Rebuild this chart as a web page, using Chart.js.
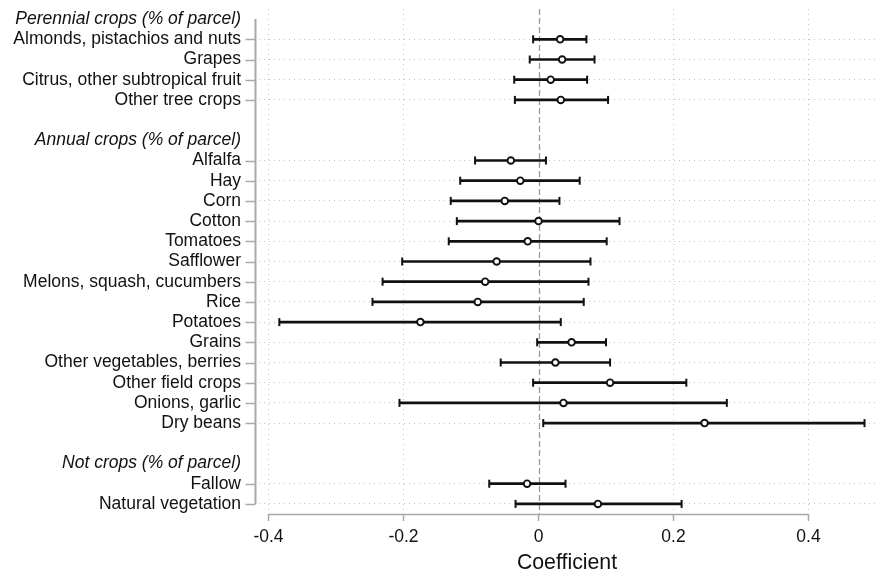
<!DOCTYPE html>
<html>
<head>
<meta charset="utf-8">
<script src="https://cdn.jsdelivr.net/npm/chart.js@4/dist/chart.umd.min.js"></script>
<style>
  html, body { margin: 0; padding: 0; background: #ffffff; }
  #wrap { width: 875px; height: 581px; position: relative; }
</style>
</head>
<body>
<div id="wrap"><canvas id="c" width="875" height="581"></canvas></div>
<script>
// ---- data ----
const categories = [
  'Perennial crops (% of parcel)',
  'Almonds, pistachios and nuts',
  'Grapes',
  'Citrus, other subtropical fruit',
  'Other tree crops',
  ' ',
  'Annual crops (% of parcel)',
  'Alfalfa',
  'Hay',
  'Corn',
  'Cotton',
  'Tomatoes',
  'Safflower',
  'Melons, squash, cucumbers',
  'Rice',
  'Potatoes',
  'Grains',
  'Other vegetables, berries',
  'Other field crops',
  'Onions, garlic',
  'Dry beans',
  '  ',
  'Not crops (% of parcel)',
  'Fallow',
  'Natural vegetation'
];
const groupHeaders = [
  'Perennial crops (% of parcel)',
  'Annual crops (% of parcel)',
  'Not crops (% of parcel)'
];
const coef  = [null, 0.032, 0.035, 0.018, 0.033, null, null, -0.041, -0.027, -0.050, 0.000, -0.016, -0.062, -0.079, -0.090, -0.175, 0.049, 0.025, 0.106, 0.037, 0.246, null, null, -0.017, 0.088];
const lower = [null, -0.008, -0.013, -0.036, -0.035, null, null, -0.094, -0.116, -0.130, -0.121, -0.133, -0.202, -0.231, -0.246, -0.384, -0.002, -0.056, -0.008, -0.206, 0.007, null, null, -0.073, -0.034];
const upper = [null, 0.071, 0.083, 0.072, 0.103, null, null, 0.011, 0.061, 0.031, 0.120, 0.101, 0.077, 0.074, 0.067, 0.033, 0.100, 0.106, 0.219, 0.279, 0.483, null, null, 0.040, 0.212];
const xTicks = [-0.4, -0.2, 0, 0.2, 0.4];
const xTitle = 'Coefficient';

// ---- derived structures for the library ----
const isData = i => coef[i] !== null && coef[i] !== undefined;
const ciBars = categories.map((c, i) => isData(i) ? [lower[i], upper[i]] : null);
const lowCaps = categories.map((c, i) => isData(i) ? { x: lower[i], y: c } : null).filter(Boolean);
const highCaps = categories.map((c, i) => isData(i) ? { x: upper[i], y: c } : null).filter(Boolean);
const estimates = categories.map((c, i) => isData(i) ? { x: coef[i], y: c } : null).filter(Boolean);

const FONT = '"Liberation Sans", Arial, Helvetica, sans-serif';
const AXIS_GREY = '#a8a8a8';
const DOT_GREY = '#c2c2c2';
const INK = '#111111';

const axisPlugin = {
  id: 'stataAxes',
  beforeDatasetsDraw(chart) {
    const { ctx, chartArea, scales } = chart;
    const xs = scales.x, ys = scales.y;
    ctx.save();
    // zero reference line (dashed)
    const x0 = Math.round(xs.getPixelForValue(0)) + 0.5;
    ctx.strokeStyle = '#9a9a9a';
    ctx.lineWidth = 1.3;
    ctx.setLineDash([6, 3]);
    ctx.beginPath();
    ctx.moveTo(x0, chartArea.top);
    ctx.lineTo(x0, chartArea.bottom);
    ctx.stroke();
    ctx.setLineDash([]);
    // y axis line spanning first to last row
    const axX = chartArea.left - 3.5;
    ctx.strokeStyle = AXIS_GREY;
    ctx.lineWidth = 2;
    ctx.beginPath();
    ctx.moveTo(axX, ys.getPixelForValue(0));
    ctx.lineTo(axX, ys.getPixelForValue(categories.length - 1));
    ctx.stroke();
    // y tick marks on data rows
    ctx.lineWidth = 1.5;
    categories.forEach((c, i) => {
      if (!isData(i)) return;
      const y = Math.round(ys.getPixelForValue(i)) + 0.5;
      ctx.beginPath();
      ctx.moveTo(axX - 10, y);
      ctx.lineTo(axX, y);
      ctx.stroke();
    });
    // x axis line from first to last tick
    const yb = chartArea.bottom + 0.5;
    ctx.lineWidth = 1.5;
    ctx.beginPath();
    ctx.moveTo(xs.getPixelForValue(xTicks[0]), yb);
    ctx.lineTo(xs.getPixelForValue(xTicks[xTicks.length - 1]), yb);
    ctx.stroke();
    ctx.restore();
  }
};

new Chart(document.getElementById('c'), {
  type: 'bar',
  data: {
    labels: categories,
    datasets: [
      {
        type: 'scatter',
        label: 'Estimate',
        data: estimates,
        order: 0,
        pointStyle: 'circle',
        pointRadius: 3.3,
        pointBorderWidth: 1.9,
        pointBackgroundColor: '#ffffff',
        pointBorderColor: INK
      },
      {
        type: 'scatter',
        label: 'Lower bound',
        data: lowCaps,
        order: 1,
        pointStyle: 'line',
        rotation: 90,
        pointRadius: 4,
        pointBorderWidth: 2,
        pointBorderColor: INK,
        pointBackgroundColor: INK
      },
      {
        type: 'scatter',
        label: 'Upper bound',
        data: highCaps,
        order: 1,
        pointStyle: 'line',
        rotation: 90,
        pointRadius: 4,
        pointBorderWidth: 2,
        pointBorderColor: INK,
        pointBackgroundColor: INK
      },
      {
        type: 'bar',
        label: '95% CI',
        data: ciBars,
        order: 2,
        barThickness: 2,
        borderWidth: 0,
        borderSkipped: false,
        backgroundColor: INK
      }
    ]
  },
  options: {
    indexAxis: 'y',
    responsive: false,
    animation: false,
    events: [],
    layout: { autoPadding: false, padding: { top: 9, right: 0, bottom: 0, left: 0 } },
    plugins: {
      legend: { display: false },
      tooltip: { enabled: false },
      title: { display: false }
    },
    scales: {
      x: {
        type: 'linear',
        position: 'bottom',
        min: -0.4141,
        max: 0.4985,
        afterBuildTicks: (scale) => { scale.ticks = xTicks.map(v => ({ value: v })); },
        afterFit: (scale) => { scale.height = 67; scale.paddingLeft = 0; scale.paddingRight = 0; },
        ticks: {
          autoSkip: false,
          maxRotation: 0,
          padding: 6,
          color: INK,
          font: { family: FONT, size: 17.5 },
          callback: (v) => (v === 0 ? '0' : Number(v).toFixed(1))
        },
        grid: {
          display: true,
          drawOnChartArea: true,
          drawTicks: true,
          tickLength: 7,
          tickWidth: 1.5,
          tickColor: AXIS_GREY,
          lineWidth: 1,
          color: (ctx) => (ctx.tick && ctx.tick.value === 0 ? 'rgba(0,0,0,0)' : DOT_GREY)
        },
        border: { display: false, dash: [1, 4] },
        title: {
          display: true,
          text: xTitle,
          color: INK,
          font: { family: FONT, size: 21.3 },
          padding: { top: 5, bottom: 5 }
        }
      },
      y: {
        type: 'category',
        position: 'left',
        offset: true,
        afterFit: (scale) => { scale.width = 259; scale.paddingTop = 0; scale.paddingBottom = 0; },
        ticks: {
          autoSkip: false,
          padding: 18,
          color: INK,
          font: (ctx) => ({
            family: FONT,
            size: 17.5,
            style: groupHeaders.includes(categories[ctx.index]) ? 'italic' : 'normal'
          })
        },
        grid: {
          display: true,
          offset: false,
          drawTicks: false,
          lineWidth: 1,
          color: (ctx) => (isData(ctx.index) ? DOT_GREY : 'rgba(0,0,0,0)')
        },
        border: { display: false, dash: [1, 4] }
      }
    }
  },
  plugins: [axisPlugin]
});
</script>
</body>
</html>
